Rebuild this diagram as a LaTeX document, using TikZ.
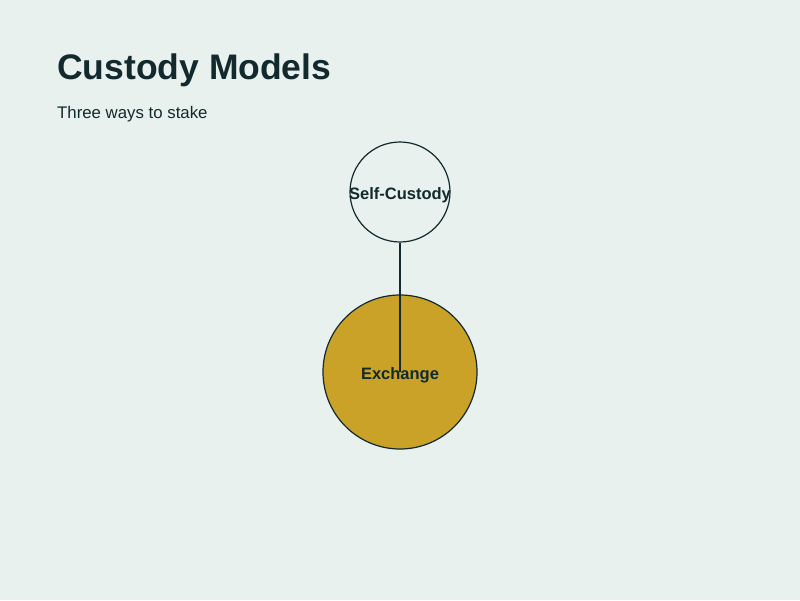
\documentclass[tikz,border=0pt]{standalone}
\usepackage{fontspec}
\setmainfont{Liberation Sans}
\usepackage{tikz}
\definecolor{bgmint}{HTML}{E8F1ED}
\definecolor{inkdark}{HTML}{12292E}
\definecolor{goldfill}{HTML}{C9A227}
\tikzset{
    model/.style={circle,draw=inkdark,line width=1.2pt,inner sep=0pt,font=\fontsize{16.5}{19}\selectfont\bfseries,text=inkdark},
}
\begin{document}
\begin{tikzpicture}[x=1pt,y=-1pt]
        \fill[bgmint] (0,0) rectangle (800,600); % page
        \useasboundingbox (0,0) rectangle (800,600);
        \node[anchor=base west,inner sep=0pt,text=inkdark,font=\fontsize{35.5}{40}\selectfont\bfseries] (title) at (57,79) {Custody Models};
        \node[anchor=base west,inner sep=0pt,text=inkdark,font=\fontsize{16.8}{20}\selectfont] (subtitle) at (57,118) {Three ways to stake};
        \node[model,fill=bgmint,minimum size=100pt] (self) at (400,192) {};
        \node[model,fill=goldfill,minimum size=154pt] (exchange) at (400,372) {};
        \draw[inkdark,line width=1.5pt] (self.south) -- (exchange.center);
        \node[font=\fontsize{16.5}{19}\selectfont\bfseries,text=inkdark] (selflabel) at (400,195.5) {Self-Custody};
        \node[font=\fontsize{16.5}{19}\selectfont\bfseries,text=inkdark] (exlabel) at (400,375.5) {Exchange};
    \end{tikzpicture}
\end{document}
